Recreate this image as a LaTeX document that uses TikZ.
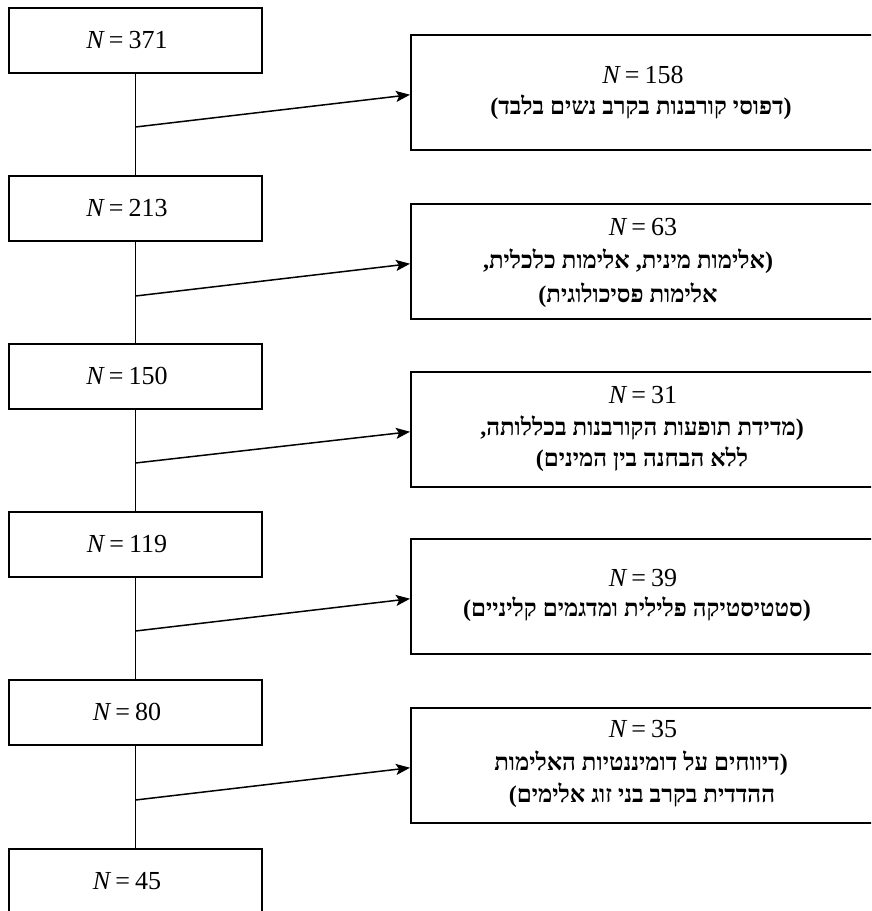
\documentclass[tikz,border=0pt]{standalone}
\usepackage{fontspec}
\setmainfont{Liberation Serif}
\newfontfamily\heb[Script=Hebrew]{Liberation Serif}
\TeXXeTstate=1
\usetikzlibrary{arrows.meta}
\newcommand\nval[1]{\textit{N}\kern4pt=\kern5pt#1}
\newcommand\hebtext[1]{{\heb\bfseries\beginR#1\endR}}
\begin{document}
\begin{tikzpicture}[x=1pt,y=-1pt,
  lbox/.style={draw, line width=1.5pt, minimum width=253pt, minimum height=65pt, inner sep=0pt, anchor=north},
  rbox/.style={draw, line width=1.5pt, minimum width=464pt, minimum height=115pt, inner sep=0pt, anchor=north west},
  txt/.style={anchor=base, inner sep=0pt, font=\fontsize{26}{33}\selectfont},
  htxt/.style={anchor=base, inner sep=0pt, font=\fontsize{24}{33}\selectfont\bfseries},
  conn/.style={line width=1.5pt},
  arr/.style={line width=1.5pt, -{Stealth[length=14pt,width=11pt,inset=3pt]}}]
\useasboundingbox (0,0) rectangle (871,911);
\clip (0,0) rectangle (871,911);
% left boxes
\node[lbox] (b1) at (135.5,7) {};
\node[lbox] (b2) at (135.5,175) {};
\node[lbox] (b3) at (135.5,343) {};
\node[lbox] (b4) at (135.5,511) {};
\node[lbox] (b5) at (135.5,679) {};
\node[lbox] (b6) at (135.5,848) {};
\node[txt] (n1) at (127,48) {\nval{371}};
\node[txt] (n2) at (127,216) {\nval{213}};
\node[txt] (n3) at (127,384) {\nval{150}};
\node[txt] (n4) at (127,552) {\nval{119}};
\node[txt] (n5) at (127,720) {\nval{80}};
\node[txt] (n6) at (127,889) {\nval{45}};
% right boxes
\node[rbox] (r1) at (410,34) {};
\node[rbox] (r2) at (410,203) {};
\node[rbox] (r3) at (410,371) {};
\node[rbox] (r4) at (410,538) {};
\node[rbox] (r5) at (410,707) {};
% right texts
\node[txt] (t1a) at (643,83) {\nval{158}};
\node[htxt] (t1b) at (641,114) {(\hebtext{דפוסי קורבנות בקרב נשים בלבד})};
\node[txt] (t2a) at (643,235) {\nval{63}};
\node[htxt] (t2b) at (628,268) {\hebtext{אלימות מינית\kern0pt, אלימות כלכלית\kern0pt,})};
\node[htxt] (t2c) at (628,302) {(\hebtext{אלימות פסיכולוגית}};
\node[txt] (t3a) at (643,403) {\nval{31}};
\node[htxt] (t3b) at (642,435) {\hebtext{מדידת תופעות הקורבנות בכללותה\kern0pt,})};
\node[htxt] (t3c) at (642,466) {(\hebtext{ללא הבחנה בין המינים}};
\node[txt] (t4a) at (643,586) {\nval{39}};
\node[htxt] (t4b) at (637,616) {(\hebtext{סטטיסטיקה פלילית ומדגמים קליניים})};
\node[txt] (t5a) at (643,737) {\nval{35}};
\node[htxt] (t5b) at (641,770) {\hebtext{דיווחים על דומיננטיות האלימות})};
\node[htxt] (t5c) at (642,802) {(\hebtext{ההדדית בקרב בני זוג אלימים}};
% vertical connectors
\draw[conn] (b1.south) -- (b2.north);
\draw[conn] (b2.south) -- (b3.north);
\draw[conn] (b3.south) -- (b4.north);
\draw[conn] (b4.south) -- (b5.north);
\draw[conn] (b5.south) -- (b6.north);
% junctions
\coordinate (j1) at (135.5,127);
\coordinate (j2) at (135.5,296);
\coordinate (j3) at (135.5,463);
\coordinate (j4) at (135.5,631);
\coordinate (j5) at (135.5,800);
\draw[arr] (j1) -- ([yshift=-2.5pt]r1.west);
\draw[arr] (j2) -- ([yshift=-2.5pt]r2.west);
\draw[arr] (j3) -- ([yshift=-2.5pt]r3.west);
\draw[arr] (j4) -- ([yshift=-2.5pt]r4.west);
\draw[arr] (j5) -- ([yshift=-2.5pt]r5.west);
\end{tikzpicture}
\end{document}
